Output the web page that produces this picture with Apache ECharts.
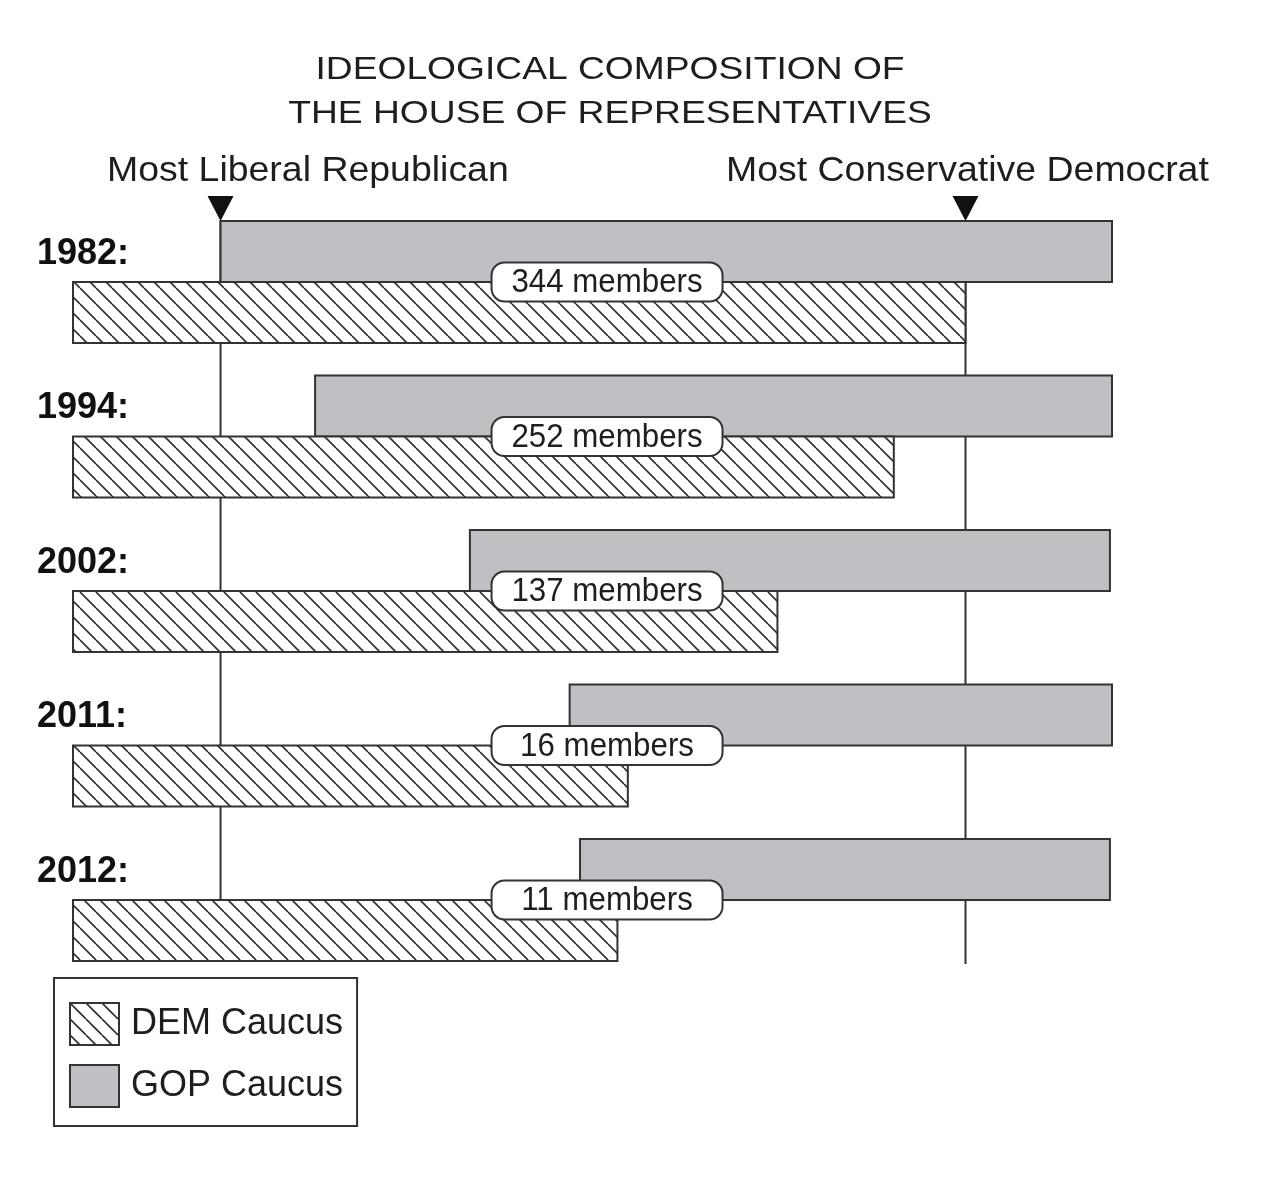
<!DOCTYPE html>
<html>
	<head>
		<meta charset="UTF-8">
		<title>Ideological composition of the House</title>
		<script src="https://cdn.jsdelivr.net/npm/echarts@6/dist/echarts.min.js" type="text/javascript" charset="utf-8"></script>
		<style>
			html, body {margin: 0; padding: 0; background: #fff;}
		</style>
	</head>
	<body>
		<div id="chart" style="width: 1265px; height: 1200px;"></div>
		<script type="text/javascript">
			// data (0 = left edge of DEM bars, 100 = right edge of GOP bars)
			var years = ['1982', '1994', '2002', '2011', '2012'];
			var demLeft = [0, 0, 0, 0, 0];
			var demRight = [85.9, 79.0, 67.8, 53.4, 52.4];
			var gopLeft = [14.2, 23.3, 38.2, 47.8, 48.8];
			var gopRight = [100, 100, 99.8, 100, 99.8];
			var overlapMembers = [344, 252, 137, 16, 11];
			var refLines = [14.2, 85.9];
			var titleLines = ['IDEOLOGICAL COMPOSITION OF', 'THE HOUSE OF REPRESENTATIVES'];

			var FONT = "'Liberation Sans', Arial, Helvetica, sans-serif";
			var INK = '#1e1e1e';
			var EDGE = '#333';
			var GOP_FILL = '#bfc0c3';
			var BAR_RATIO = 0.395;
			var LABEL_X = 51.4;

			// diagonal hatch pattern for the DEM bars
			function makeHatch(size) {
				var c = document.createElement('canvas');
				c.width = size;
				c.height = size;
				var g = c.getContext('2d');
				g.fillStyle = '#fff';
				g.fillRect(0, 0, size, size);
				g.strokeStyle = '#333';
				g.lineWidth = 1.7;
				g.beginPath();
				for (var k = -1; k <= 1; k++) {
					g.moveTo(k * size, 0);
					g.lineTo(k * size + size, size);
				}
				g.stroke();
				return c;
			}
			var hatch = {image: makeHatch(16), repeat: 'repeat'};

			var demData = years.map(function (y, i) { return [demLeft[i], demRight[i], i]; });
			var gopData = years.map(function (y, i) { return [gopLeft[i], gopRight[i], i]; });
			var labelData = years.map(function (y, i) { return [LABEL_X, i, overlapMembers[i]]; });
			var refData = refLines.map(function (v) { return [v, 0]; });

			function barRenderer(fill, above) {
				return function (params, api) {
					var a = api.coord([api.value(0), api.value(2)]);
					var b = api.coord([api.value(1), api.value(2)]);
					var h = api.size([0, 1])[1] * BAR_RATIO;
					return {
						type: 'rect',
						shape: {x: a[0], y: above ? a[1] - h : a[1], width: b[0] - a[0], height: h},
						style: {fill: fill, stroke: EDGE, lineWidth: 2}
					};
				};
			}

			var chart = echarts.init(document.getElementById('chart'));
			var option = {
				animation: false,
				backgroundColor: '#fff',
				tooltip: {show: false},
				grid: {left: 73, right: 153, top: 204.75, bottom: 222.75},
				xAxis: {type: 'value', min: 0, max: 100, show: false},
				yAxis: {
					type: 'category',
					inverse: true,
					data: years,
					axisLine: {show: false},
					axisTick: {show: false},
					splitLine: {show: false},
					axisLabel: {
						// year sits on the GOP half of the row: push it up with an empty line below
						formatter: function (v) { return '{y|' + v + ':}\n{gap| }'; },
						align: 'left',
						margin: 36,
						rich: {
							y: {fontSize: 36, fontWeight: 'bold', fontFamily: FONT, color: '#111', lineHeight: 40},
							gap: {fontSize: 10, lineHeight: 56, height: 56}
						}
					}
				},
				legend: {
					orient: 'vertical',
					left: 54,
					top: 978,
					icon: 'rect',
					itemWidth: 49,
					itemHeight: 42,
					itemGap: 18,
					padding: [24, 14, 18, 15],
					borderColor: EDGE,
					borderWidth: 2,
					selectedMode: false,
					itemStyle: {borderColor: EDGE, borderWidth: 2},
					textStyle: {fontSize: 36, fontFamily: FONT, color: INK, padding: [0, 0, 0, 7]},
					data: ['DEM Caucus', 'GOP Caucus']
				},
				graphic: [
					{
						type: 'text', x: 610, y: 92, scaleX: 1.2,
						style: {text: titleLines.join('\n'), font: '31px ' + FONT, fill: INK,
							align: 'center', verticalAlign: 'middle', lineHeight: 44}
					},
					{
						type: 'text', x: 107, y: 171, scaleX: 1.07,
						style: {text: 'Most Liberal Republican', font: '35px ' + FONT, fill: INK,
							align: 'left', verticalAlign: 'middle'}
					},
					{
						type: 'text', x: 726, y: 171, scaleX: 1.07,
						style: {text: 'Most Conservative Democrat', font: '35px ' + FONT, fill: INK,
							align: 'left', verticalAlign: 'middle'}
					}
				],
				series: [
					{
						name: 'refs',
						type: 'custom',
						z: 1,
						clip: false,
						encode: {x: 0, y: 1},
						data: refData,
						renderItem: function (params, api) {
							var top = api.coord([api.value(0), 0]);
							var bot = api.coord([api.value(0), years.length - 1]);
							var h = api.size([0, 1])[1] * BAR_RATIO;
							var x = top[0], y0 = top[1] - h, y1 = bot[1] + h + (params.dataIndex ? 3 : 0);
							return {
								type: 'group',
								children: [
									{type: 'line', shape: {x1: x, y1: y0, x2: x, y2: y1}, style: {stroke: EDGE, lineWidth: 2}},
									{type: 'polygon', shape: {points: [[x - 13, y0 - 25], [x + 13, y0 - 25], [x, y0]]}, style: {fill: '#111'}}
								]
							};
						}
					},
					{
						name: 'GOP Caucus',
						type: 'custom',
						z: 2,
						encode: {x: [0, 1], y: 2},
						itemStyle: {color: GOP_FILL, borderColor: EDGE, borderWidth: 2},
						data: gopData,
						renderItem: barRenderer(GOP_FILL, true)
					},
					{
						name: 'DEM Caucus',
						type: 'custom',
						z: 2,
						encode: {x: [0, 1], y: 2},
						itemStyle: {color: hatch, borderColor: EDGE, borderWidth: 2},
						data: demData,
						renderItem: barRenderer(hatch, false)
					},
					{
						name: 'members',
						type: 'custom',
						z: 3,
						clip: false,
						encode: {x: 0, y: 1},
						data: labelData,
						renderItem: function (params, api) {
							var p = api.coord([api.value(0), api.value(1)]);
							var w = 231, h = 39;
							return {
								type: 'group',
								children: [
									{type: 'rect', shape: {x: p[0] - w / 2, y: p[1] - h / 2, width: w, height: h, r: 13},
										style: {fill: '#fff', stroke: EDGE, lineWidth: 2}},
									{type: 'text', x: p[0], y: p[1] + 1, scaleX: 0.92,
										style: {text: api.value(2) + ' members', font: '34px ' + FONT, fill: INK,
											align: 'center', verticalAlign: 'middle'}}
								]
							};
						}
					}
				]
			};
			chart.setOption(option, true);
		</script>
	</body>
</html>
